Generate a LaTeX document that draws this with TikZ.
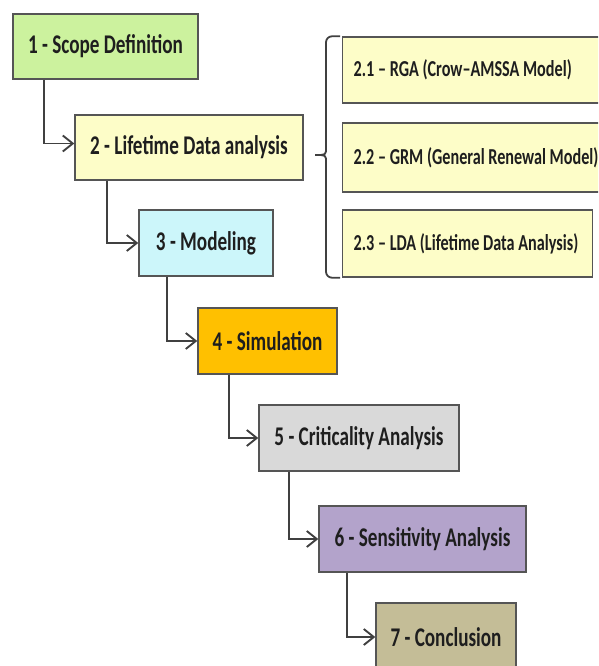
\documentclass[tikz,border=0pt]{standalone}
\usepackage{fontspec}
\setmainfont{Carlito}[FakeStretch=0.71]
\usetikzlibrary{arrows.meta}

\definecolor{scopegreen}{HTML}{CCF29E}
\definecolor{paleyellow}{HTML}{FDFDC8}
\definecolor{palecyan}{HTML}{CCF6FA}
\definecolor{simorange}{HTML}{FFC000}
\definecolor{critgray}{HTML}{D9D9D9}
\definecolor{lavender}{HTML}{B3A3CB}
\definecolor{tan}{HTML}{C4BD97}
\definecolor{framegray}{HTML}{555555}
\definecolor{linkgray}{HTML}{404040}
\definecolor{textdark}{HTML}{1E1E1E}

\begin{document}
\begin{tikzpicture}[x=1pt,y=-1pt,
  stepbox/.style={draw=framegray, line width=1.4pt, minimum height=65pt,
    inner sep=0pt, text=textdark, font=\fontsize{27}{30}\selectfont\bfseries},
  subbox/.style={draw=framegray, line width=1.4pt, fill=paleyellow,
    minimum height=66pt, inner xsep=11pt, inner ysep=0pt,
    anchor=west, text=textdark, font=\fontsize{22.8}{26}\selectfont\bfseries},
  link/.style={draw=linkgray, line width=1.9pt,
    -{Straight Barb[length=10pt,width=16pt]}},
  bracket/.style={draw=linkgray, line width=1.8pt}]

\useasboundingbox (0,0) rectangle (598,666);
\clip (0,0) rectangle (598,666);

% main process steps
\node[stepbox, fill=scopegreen, minimum width=185pt] (s1) at (105.5,46.5) {1 - Scope Definition};
\node[stepbox, fill=paleyellow, minimum width=228pt] (s2) at (189,147.5) {2 - Lifetime Data analysis};
\node[stepbox, fill=palecyan, minimum width=134pt, minimum height=66pt] (s3) at (206,243) {3 - Modeling};
\node[stepbox, fill=simorange, minimum width=139pt, minimum height=66pt] (s4) at (267.5,341) {4 - Simulation};
\node[stepbox, fill=critgray, minimum width=200pt, minimum height=66pt] (s5) at (359,438) {5 - Criticality Analysis};
\node[stepbox, fill=lavender, minimum width=207pt, minimum height=66pt] (s6) at (422.5,539) {6 - Sensitivity Analysis};
\node[stepbox, fill=tan, minimum width=140pt, minimum height=68pt] (s7) at (446,637) {7 - Conclusion};

% sub-methods of step 2 (left-aligned, one line each)
\node[subbox] (m1) at (342,70) {\makebox[246pt][l]{2.1 – RGA (Crow–AMSSA Model)}};
\node[subbox, minimum height=69pt] (m2) at (342,157.5) {\makebox[246pt][l]{2.2 – GRM (General Renewal Model)}};
\node[subbox, minimum height=67pt] (m3) at (342,243.5) {\makebox[228pt][l]{2.3 – LDA (Lifetime Data Analysis)}};

% bracket grouping the sub-methods
\coordinate (bt) at ([xshift=-9pt]m1.north west);
\coordinate (bb) at ([xshift=-9pt]m3.south west);
\draw[bracket, rounded corners=6pt] ([xshift=7pt]bt) -| (326,150);
\draw[bracket] (326,148) .. controls (326,155) .. (315,155);
\draw[bracket] (315,155) .. controls (326,155) .. (326,162);
\draw[bracket, rounded corners=6pt] (326,160) |- ([xshift=7pt]bb);

% step-to-step connectors
\draw[link] ([xshift=32pt]s1.south west) |- ([yshift=4pt]s2.west);
\draw[link] ([xshift=33pt]s2.south west) |- (s3.west);
\draw[link] ([xshift=29pt]s3.south west) |- (s4.west);
\draw[link] ([xshift=32pt]s4.south west) |- (s5.west);
\draw[link] ([xshift=31pt]s5.south west) |- (s6.west);
\draw[link] ([xshift=29pt]s6.south west) |- (s7.west);
\end{tikzpicture}
\end{document}
